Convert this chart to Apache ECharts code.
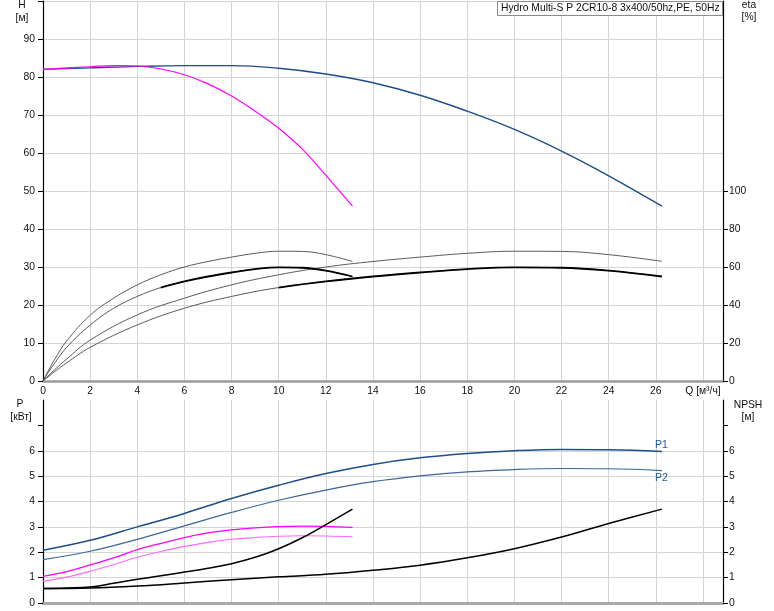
<!DOCTYPE html>
<html><head><meta charset="utf-8">
<script src="https://cdn.jsdelivr.net/npm/echarts@6/dist/echarts.min.js"></script>
<style>html,body{margin:0;padding:0;background:#fff}#c{width:774px;height:611px}</style>
</head><body><div id="c"></div>
<script>
// ---- flow values (m³/h) ----
const qOne = [0, 1, 2, 3, 4, 5, 6, 7, 8, 9, 10, 11, 12, 13.13];
const qTwo = [0, 2, 4, 6, 8, 10, 12, 14, 16, 18, 20, 22, 24, 26.26];
const qEtaOne = [0, 0.25, 0.5, 1, 2, 3, 4, 5, 6, 7, 8, 9, 10, 11, 12, 13.13];
const qEtaTwo = [0, 0.5, 1, 2, 4, 6, 8, 10, 12, 14, 16, 18, 20, 22, 24, 26.26];
// ---- head (m) ----
const headTwo = [82.0, 82.4, 82.8, 83.0, 83.0, 82.3, 80.8, 78.5, 75.2, 71.0, 66.2, 60.5, 54.0, 46.0];
const headOne = [82.0, 82.4, 82.7, 83.0, 82.9, 82.1, 80.6, 78.2, 75.0, 71.0, 66.5, 61.0, 54.1, 46.0];
// ---- efficiency (%) ----
const etaOneA = [0, 6, 11.5, 21, 34.6, 43.6, 50.6, 55.9, 60, 62.9, 65.2, 67.2, 68.3, 68.2, 66.5, 62.9];
const etaOneB = [0, 5, 9.5, 17.7, 29.4, 38.3, 44.5, 49.2, 52.4, 55, 57.1, 58.9, 59.8, 59.6, 58.1, 55.0];
const etaTwoA = [0, 6, 11.5, 21.5, 34.8, 43.6, 50.6, 55.9, 60, 62.9, 65.2, 67.2, 68.3, 68.2, 66.5, 63.0];
const etaTwoB = [0, 5, 9.5, 17.7, 29.5, 38.3, 44.5, 49.2, 52.4, 55, 57.1, 58.9, 59.8, 59.6, 58.1, 55.0];
// ---- power (kW) ----
const p1Two = [2.08, 2.47, 3.0, 3.53, 4.12, 4.64, 5.1, 5.46, 5.72, 5.89, 6.0, 6.05, 6.04, 5.97];
const p2Two = [1.71, 2.04, 2.51, 3.04, 3.57, 4.05, 4.45, 4.78, 5.01, 5.17, 5.26, 5.3, 5.29, 5.22];
const p1One = [1.05, 1.24, 1.5, 1.78, 2.1, 2.35, 2.58, 2.76, 2.88, 2.96, 3.01, 3.03, 3.02, 2.98];
const p2One = [0.86, 1.02, 1.25, 1.52, 1.8, 2.03, 2.23, 2.39, 2.51, 2.58, 2.63, 2.65, 2.64, 2.61];
// ---- NPSH (m) ----
const npshOne = [0.57, 0.59, 0.63, 0.78, 0.94, 1.07, 1.22, 1.37, 1.55, 1.8, 2.14, 2.57, 3.09, 3.7];
const npshTwo = [0.57, 0.59, 0.67, 0.79, 0.92, 1.03, 1.13, 1.29, 1.49, 1.78, 2.14, 2.6, 3.13, 3.7];
// ---- ticks / texts ----
const qTicks = [0, 2, 4, 6, 8, 10, 12, 14, 16, 18, 20, 22, 24, 26];
const qAxisName = 'Q [м³/ч]';
const etaTicks = [0, 20, 40, 60, 80, 100];
const pLabelTicks = [0, 1, 2, 3, 4, 5, 6];
const pTickMarks = [0, 1, 2, 3, 4, 5, 6, 7];
const titleText = 'Hydro Multi-S P 2CR10-8 3x400/50hz,PE, 50Hz';

const FONT = 'Liberation Sans, Arial, sans-serif';
const pair = (xs, ys) => xs.map((x, i) => [x, ys[i]]);

const chart = echarts.init(document.getElementById('c'), null, {renderer: 'canvas'});
const gridLine = {show: true, lineStyle: {color: '#d4d4d4', width: 1}};
const xBase = {type: 'value', min: 0, max: 28.85, interval: 2,
  splitLine: {show: true, lineStyle: {color: '#d4d4d4', width: 1}}, axisTick: {show: false}};
function line(name, xs, ys, xi, yi, color, width, z) {
  return {type: 'line', name, xAxisIndex: xi, yAxisIndex: yi, data: pair(xs, ys), showSymbol: false,
    smooth: 0.4, lineStyle: {color, width}, z: z || 2, silent: true};
}
const series = [
  line('H2', qTwo, headTwo, 0, 0, '#1d4e89', 1.4, 3),
  line('H1', qOne, headOne, 0, 0, '#ff00ff', 1.2, 4),
  line('etaA1', qEtaOne, etaOneA, 0, 1, '#5a5a5a', 1),
  line('etaB1', qEtaOne, etaOneB, 0, 1, '#5a5a5a', 1),
  line('etaA2', qEtaTwo, etaTwoA, 0, 1, '#5a5a5a', 1),
  line('etaB2', qEtaTwo, etaTwoB, 0, 1, '#5a5a5a', 1),
  line('etaB1t', qEtaOne.slice(7), etaOneB.slice(7), 0, 1, '#000', 1.8, 5),
  line('etaB2t', qEtaTwo.slice(7), etaTwoB.slice(7), 0, 1, '#000', 1.8, 5),
  line('NPSH1', qOne, npshOne, 1, 3, '#000', 1.5, 5),
  line('NPSH2', qTwo, npshTwo, 1, 3, '#000', 1.5, 5),
  line('P1one', qOne, p1One, 1, 2, '#ff00ff', 1.3, 4),
  line('P2one', qOne, p2One, 1, 2, '#ff66ff', 1.1, 4),
  line('P1two', qTwo, p1Two, 1, 2, '#1d4e89', 1.5, 3),
  line('P2two', qTwo, p2Two, 1, 2, '#3d6699', 1.2, 3)
];
const endLab = (t, off) => ({show: true, formatter: t, distance: 0, offset: off, color: '#1c5a9c',
  fontSize: 10.5, fontFamily: FONT, align: 'left', verticalAlign: 'middle'});
series[12].endLabel = endLab('P1', [-7, -6]);
series[13].endLabel = endLab('P2', [-7, 8]);

const txt = (x, y, t, align) => ({type: 'text', x, y, style: {text: t, fill: '#111', font: '10.3px ' + FONT,
  textAlign: align || 'center', textVerticalAlign: 'middle'}});
const pGridColors = ['#d4d4d4', '#d4d4d4', '#d4d4d4', '#d4d4d4', '#d4d4d4', '#d4d4d4', '#d4d4d4', 'rgba(0,0,0,0)'];

chart.setOption({
  animation: false,
  backgroundColor: '#fff',
  grid: [{left: 43, right: 51, top: 1, height: 380}, {left: 43, right: 51, top: 400, height: 203}],
  xAxis: [
    Object.assign({}, xBase, {gridIndex: 0, position: 'bottom',
      axisLine: {show: true, lineStyle: {color: '#9a9a9a', width: 2.5}},
      axisLabel: {show: true, margin: 5, fontSize: 10.3, fontFamily: FONT, color: '#111',
        formatter: v => v === 28 ? qAxisName : (qTicks.indexOf(v) >= 0 ? String(v) : '')}}),
    Object.assign({}, xBase, {gridIndex: 1, position: 'bottom',
      axisLine: {show: true, lineStyle: {color: '#9a9a9a', width: 2.5}}, axisLabel: {show: false}}),
    Object.assign({}, xBase, {gridIndex: 1, position: 'top', splitLine: {show: false},
      axisLine: {show: true, lineStyle: {color: '#a8a8a8', width: 2.5}}, axisLabel: {show: false}})
  ],
  yAxis: [
    {type: 'value', gridIndex: 0, position: 'left', min: 0, max: 100, interval: 10,
      axisLine: {show: true, onZero: false, lineStyle: {color: '#000', width: 1.2}},
      axisTick: {show: true, length: 5, lineStyle: {color: '#000'}},
      axisLabel: {margin: 8, fontSize: 10.3, fontFamily: FONT, color: '#111', formatter: v => v >= 100 ? '' : String(v)},
      splitLine: gridLine},
    {type: 'value', gridIndex: 0, position: 'right', min: 0, max: 200, interval: 20,
      axisLine: {show: true, onZero: false, lineStyle: {color: '#000', width: 1.2}},
      axisTick: {show: true, length: 5, customValues: etaTicks, lineStyle: {color: '#000'}},
      axisLabel: {margin: 6, fontSize: 10.3, fontFamily: FONT, color: '#111', customValues: etaTicks},
      splitLine: {show: false}},
    {type: 'value', gridIndex: 1, position: 'left', min: 0, max: 8, interval: 1,
      axisLine: {show: true, onZero: false, lineStyle: {color: '#000', width: 1.2}},
      axisTick: {show: true, length: 5, customValues: pTickMarks, lineStyle: {color: '#000'}},
      axisLabel: {margin: 8, fontSize: 10.3, fontFamily: FONT, color: '#111', customValues: pLabelTicks},
      splitLine: {show: true, lineStyle: {color: pGridColors, width: 1}}},
    {type: 'value', gridIndex: 1, position: 'right', min: 0, max: 8, interval: 1,
      axisLine: {show: true, onZero: false, lineStyle: {color: '#000', width: 1.2}},
      axisTick: {show: true, length: 5, customValues: pTickMarks, lineStyle: {color: '#000'}},
      axisLabel: {margin: 6, fontSize: 10.3, fontFamily: FONT, color: '#111', customValues: pLabelTicks},
      splitLine: {show: false}}
  ],
  series,
  graphic: [
    {type: 'rect', shape: {x: 497.5, y: 1.5, width: 225, height: 14}, style: {fill: '#fff', stroke: '#8a8a8a', lineWidth: 1}, z: 100},
    {type: 'text', x: 501, y: 8.5, z: 101, style: {text: titleText, fill: '#111', font: '10.3px ' + FONT, textAlign: 'left', textVerticalAlign: 'middle'}},
    txt(22, 5, 'H'), txt(22, 18, '[м]'),
    txt(749, 5, 'eta'), txt(749, 17, '[%]'),
    txt(20, 404, 'P'), txt(21, 417, '[кВт]'),
    txt(748, 405, 'NPSH'), txt(748, 417, '[м]')
  ]
});
</script></body></html>
